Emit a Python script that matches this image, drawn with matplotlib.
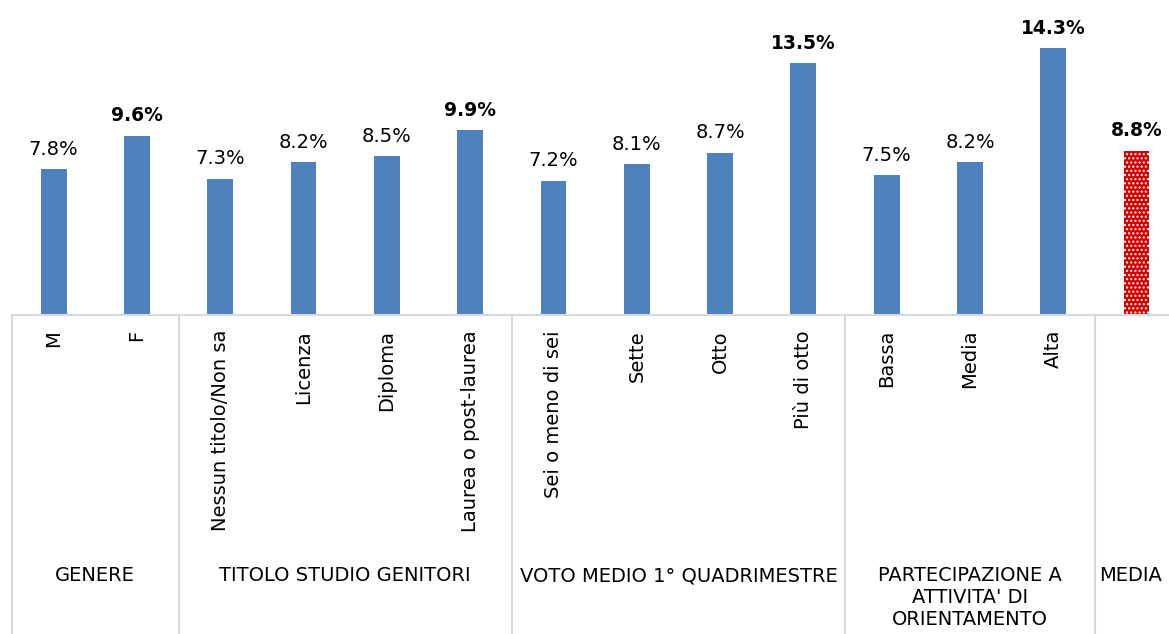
import numpy as np
import matplotlib.pyplot as plt
from matplotlib.lines import Line2D

plt.rcParams['font.family'] = ['DejaVu Sans']

# data
categories = ["M", "F", "Nessun titolo/Non sa", "Licenza", "Diploma", "Laurea o post-laurea",
              "Sei o meno di sei", "Sette", "Otto", "Più di otto",
              "Bassa", "Media", "Alta", "MEDIA"]
values = [7.8, 9.6, 7.3, 8.2, 8.5, 9.9, 7.2, 8.1, 8.7, 13.5, 7.5, 8.2, 14.3, 8.8]
bold_labels = [False, True, False, False, False, True, False, False, False, True,
               False, False, True, True]
groups = ["GENERE", "TITOLO STUDIO GENITORI", "VOTO MEDIO 1° QUADRIMESTRE",
          "PARTECIPAZIONE A\nATTIVITA' DI\nORIENTAMENTO", "MEDIA"]
group_sizes = [2, 4, 4, 3, 1]

W, H = 1169, 634
fig = plt.figure(figsize=(W / 100, H / 100), dpi=100)

slot = 83.3
x0_px = 12
base_px = 315
ax = fig.add_axes([x0_px / W, (H - base_px) / H, 14 * slot / W, base_px / H])

x = np.arange(len(categories))
ax.bar(x[:-1], values[:-1], width=0.31, color="#4f81bd", linewidth=0)
ax.bar(x[-1:], values[-1:], width=0.31, color="#d40000", edgecolor="white",
       hatch="....", linewidth=0)

for xi, v, b in zip(x, values, bold_labels):
    ax.text(xi, v + 0.55, f"{v:.1f}%", ha="center", va="bottom",
            fontsize=13.5 if b else 14,
            fontweight="bold" if b else "normal", color="black")

ax.set_xlim(-0.5, len(categories) - 0.5)
ax.set_ylim(0, base_px / 18.67)
ax.axis("off")

# baseline
line_col = "#d9d9d9"
fig.add_artist(Line2D([x0_px / W, 1], [(H - base_px) / H] * 2, color=line_col, lw=1.5))

# rotated category labels
for xi, c in zip(x, categories):
    if c == "MEDIA":
        continue
    xf = (x0_px + (xi + 0.5) * slot) / W
    fig.text(xf, (H - 330) / H, c, rotation=90, ha="center", va="top", fontsize=14)

# group separators and labels
start = 0
for g, n in zip(groups, group_sizes):
    xs = (x0_px + start * slot) / W
    fig.add_artist(Line2D([xs, xs], [0, (H - base_px) / H], color=line_col, lw=1.5))
    xc = (x0_px + (start + n / 2) * slot) / W
    if g == "MEDIA":
        fig.text((x0_px + start * slot + 4) / W, (H - 566) / H, g, ha="left", va="top",
                 fontsize=14)
    else:
        fig.text(xc, (H - 566) / H, g, ha="center", va="top", fontsize=14,
                 linespacing=1.2, multialignment="center")
    start += n

fig.savefig("out.png", dpi=100)
